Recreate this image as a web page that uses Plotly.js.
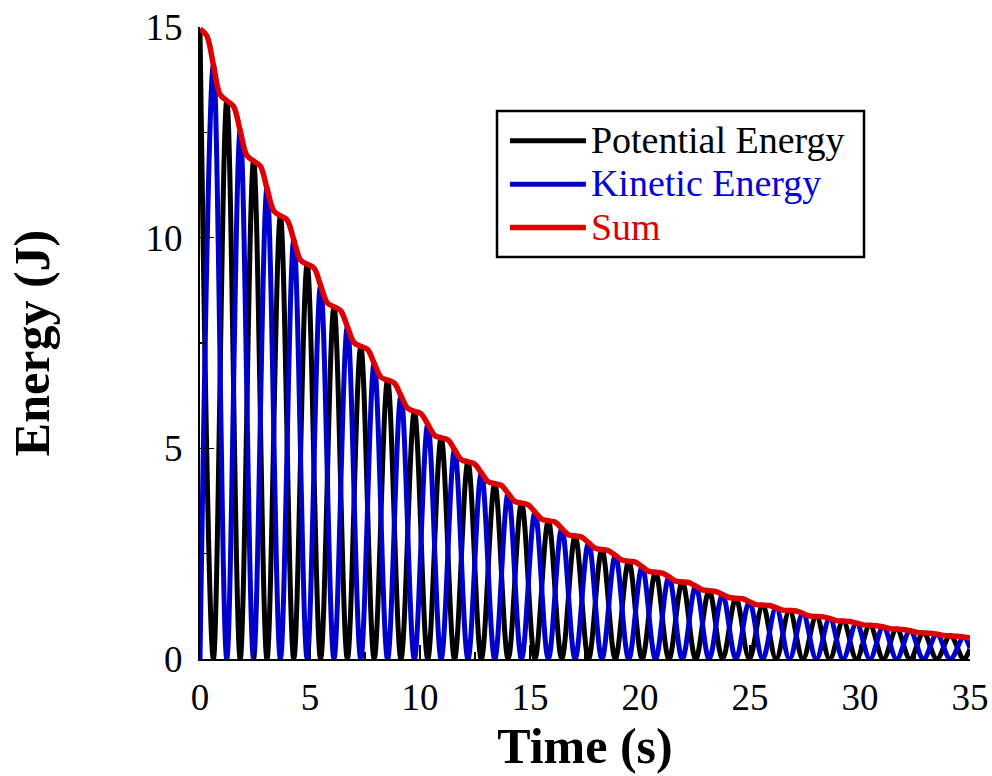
<!DOCTYPE html>
<html>
<head>
<meta charset="utf-8">
<script src="https://cdn.plot.ly/plotly-3.0.1.min.js"></script>
<style>
  html, body { margin: 0; padding: 0; background: #ffffff; }
  #chart { width: 992px; height: 776px; }
</style>
</head>
<body>
<div id="chart"></div>
<script>
// ---- Data ----
// Times (s) at which the potential energy peaks (kinetic energy is zero there)
var tPE = [0.00, 1.218, 2.436, 3.654, 4.872, 6.09, 7.308, 8.526, 9.744, 10.962,
           12.18, 13.398, 14.616, 15.834, 17.052, 18.27, 19.488, 20.706, 21.924, 23.142,
           24.36, 25.578, 26.796, 28.014, 29.232, 30.45, 31.668, 32.886, 34.104];
// Potential energy peak values (J)
var pePeak = [14.95, 13.25, 11.82, 10.52, 9.37, 8.36, 7.42, 6.62, 5.88, 5.25,
              4.68, 4.16, 3.70, 3.28, 2.92, 2.60, 2.32, 2.06, 1.83, 1.62,
              1.44, 1.28, 1.15, 1.01, 0.90, 0.80, 0.71, 0.62, 0.55];
// Times (s) at which the kinetic energy peaks (potential energy is zero there)
var tKE = [0.609, 1.827, 3.045, 4.263, 5.481, 6.699, 7.917, 9.135, 10.353, 11.571,
           12.789, 14.007, 15.225, 16.443, 17.661, 18.879, 20.097, 21.315, 22.533, 23.751,
           24.969, 26.187, 27.405, 28.623, 29.841, 31.059, 32.277, 33.495, 34.713];
// Kinetic energy peak values (J)
var kePeak = [14.10, 12.54, 11.17, 9.95, 8.87, 7.89, 7.02, 6.25, 5.57, 4.97,
              4.42, 3.93, 3.49, 3.10, 2.76, 2.46, 2.19, 1.95, 1.73, 1.53,
              1.36, 1.22, 1.08, 0.96, 0.85, 0.76, 0.67, 0.59, 0.52];
// Times (s) where potential and kinetic curves cross, and the total energy there (J)
var tCross = [0.30, 0.91, 1.52, 2.13, 2.74, 3.35, 3.96, 4.57, 5.18, 5.79,
              6.39, 7.00, 7.61, 8.22, 8.83, 9.44, 10.05, 10.66, 11.27, 11.88,
              12.48, 13.09, 13.70, 14.31, 14.92, 15.53, 16.14, 16.75, 17.36, 17.97,
              18.57, 19.18, 19.79, 20.40, 21.01, 21.62, 22.23, 22.84, 23.45, 24.06,
              24.66, 25.27, 25.88, 26.49, 27.10, 27.71, 28.32, 28.93, 29.54, 30.15,
              30.75, 31.36, 31.97, 32.58, 33.19, 33.80, 34.41];
var sumCross = [14.80, 13.40, 13.12, 11.95, 11.70, 10.64, 10.42, 9.47, 9.28, 8.45,
                8.27, 7.51, 7.35, 6.69, 6.55, 5.95, 5.82, 5.31, 5.20, 4.73,
                4.63, 4.21, 4.12, 3.74, 3.66, 3.32, 3.25, 2.95, 2.89, 2.63,
                2.57, 2.35, 2.30, 2.08, 2.04, 1.85, 1.81, 1.64, 1.60, 1.46,
                1.43, 1.29, 1.27, 1.16, 1.14, 1.02, 1.00, 0.91, 0.89, 0.81,
                0.79, 0.72, 0.70, 0.63, 0.61, 0.56, 0.54];
// Last recorded instant (s) and the energies there (J)
var tEnd = 35.0;
var peEnd = 0.24;
var keEnd = 0.26;
var sumEnd = 0.50;

var xTicks = [0, 5, 10, 15, 20, 25, 30, 35];
var yTicks = [0, 5, 10, 15];
var seriesNames = ['Potential Energy', 'Kinetic Energy', 'Sum'];

// ---- Build the series from the read values ----
function merge(pairsList) {
  var pts = [];
  pairsList.forEach(function (p) {
    for (var i = 0; i < p[0].length; i++) pts.push([p[0][i], p[1][i]]);
  });
  pts.sort(function (a, b) { return a[0] - b[0]; });
  return { x: pts.map(function (d) { return d[0]; }), y: pts.map(function (d) { return d[1]; }) };
}
function zeros(n) { var a = []; for (var i = 0; i < n; i++) a.push(0); return a; }

var pe = merge([[tPE, pePeak], [tKE, zeros(tKE.length)], [[tEnd], [peEnd]]]);
var ke = merge([[tPE, zeros(tPE.length)], [tKE, kePeak], [[tEnd], [keEnd]]]);
var total = merge([[tPE, pePeak], [tKE, kePeak], [tCross, sumCross], [[tEnd], [sumEnd]]]);

var serif = 'Liberation Serif, Times New Roman, serif';
function legendName(text, color) {
  return '<span style="font-size:38px;color:' + color + '">' + text + '</span>';
}

var traces = [
  { x: pe.x, y: pe.y, type: 'scatter', mode: 'lines',
    name: legendName(seriesNames[0], '#000000'),
    line: { color: '#000000', width: 5, shape: 'spline', smoothing: 1 } },
  { x: ke.x, y: ke.y, type: 'scatter', mode: 'lines',
    name: legendName(seriesNames[1], '#0000dd'),
    line: { color: '#0000cd', width: 5, shape: 'spline', smoothing: 1 } },
  { x: total.x, y: total.y, type: 'scatter', mode: 'lines',
    name: legendName(seriesNames[2], '#dd0000'),
    line: { color: '#de0000', width: 5.5, shape: 'spline', smoothing: 1 } }
];

var axisCommon = {
  showline: true, linecolor: '#000000', linewidth: 2, mirror: false,
  showgrid: false, zeroline: false,
  ticks: 'inside', ticklen: 14, tickwidth: 1.5, tickcolor: '#000000',
  tickfont: { family: serif, size: 37, color: '#000000' },
  automargin: false, fixedrange: true
};

var layout = {
  width: 992, height: 776,
  margin: { l: 200, r: 22, t: 27, b: 117, pad: 0 },
  paper_bgcolor: '#ffffff', plot_bgcolor: '#ffffff',
  showlegend: true,
  legend: {
    x: 0.396, y: 0.862, xanchor: 'left', yanchor: 'top',
    bgcolor: 'rgba(0,0,0,0)', borderwidth: 0,
    font: { family: serif, size: 31, color: '#000000' },
    itemwidth: 76, tracegroupgap: 0
  },
  shapes: [
    { type: 'rect', xref: 'paper', yref: 'paper',
      x0: (497 - 200) / 770, x1: (864 - 200) / 770,
      y0: 1 - (257 - 27) / 632, y1: 1 - (111 - 27) / 632,
      line: { color: '#000000', width: 2.5 }, fillcolor: '#ffffff', layer: 'below' }
  ],
  xaxis: Object.assign({}, axisCommon, {
    range: [0, 35], tickmode: 'array', tickvals: xTicks, ticktext: xTicks.map(String),
    ticklabelstandoff: 5,
    minor: { ticks: 'inside', ticklen: 7, tickwidth: 1.5, tickcolor: '#000000', dtick: 2.5, tick0: 0, showgrid: false },
    title: { text: '<b>Time (s)</b>', font: { family: serif, size: 50, color: '#000000' }, standoff: 2 }
  }),
  yaxis: Object.assign({}, axisCommon, {
    range: [0, 15], tickmode: 'array', tickvals: yTicks, ticktext: yTicks.map(String),
    ticklabelstandoff: 8,
    minor: { ticks: 'inside', ticklen: 7, tickwidth: 1.5, tickcolor: '#000000', dtick: 2.5, tick0: 0, showgrid: false },
    title: { text: '<b>Energy (J)</b>', font: { family: serif, size: 50, color: '#000000' }, standoff: 80 }
  })
};

Plotly.newPlot('chart', traces, layout, { displayModeBar: false, staticPlot: true });
</script>
</body>
</html>
